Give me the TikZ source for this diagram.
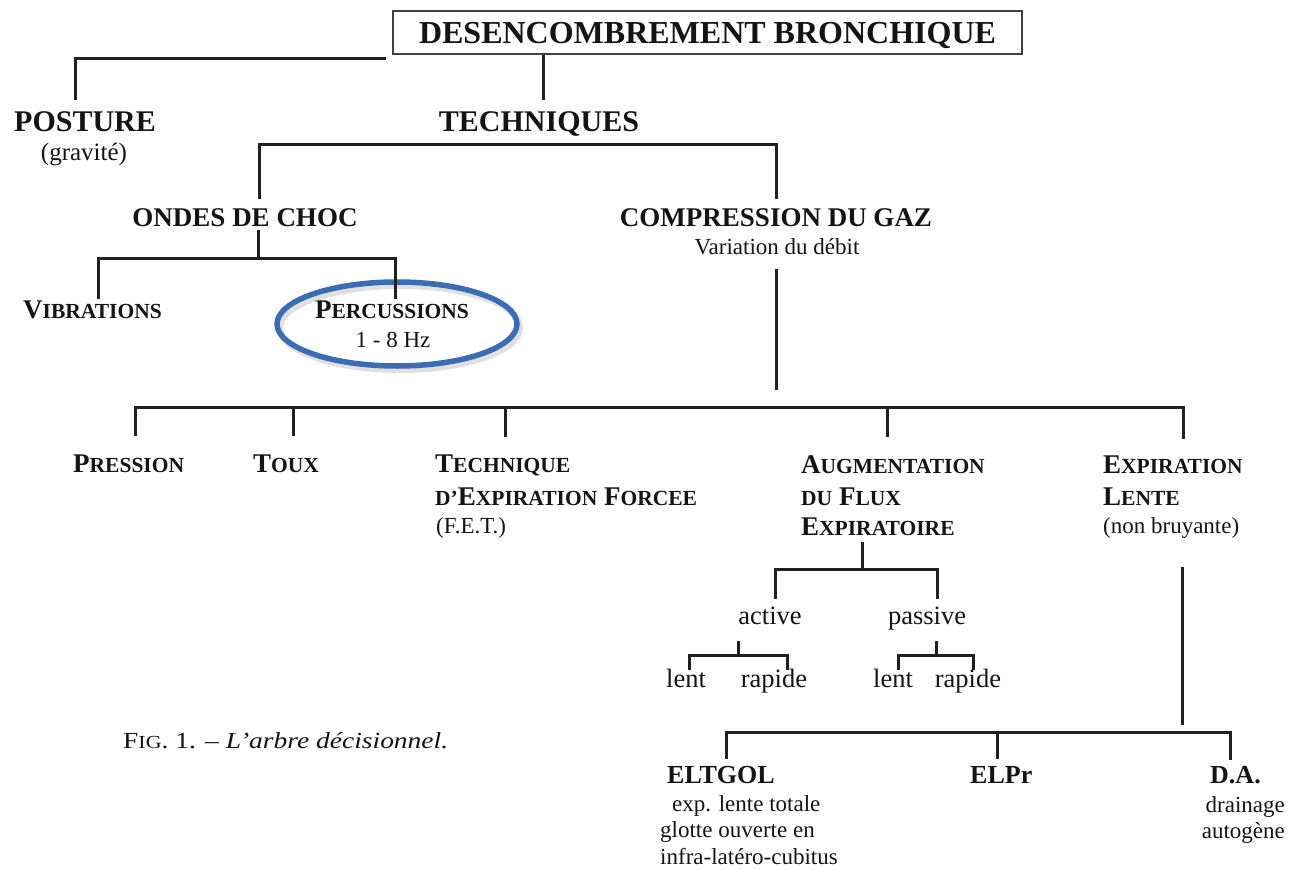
\documentclass[tikz,border=0pt]{standalone}
\usepackage{fontspec}
\setmainfont{Liberation Serif}
\usetikzlibrary{shapes.geometric}
\definecolor{ink}{HTML}{141414}
\definecolor{lineink}{HTML}{202020}
\definecolor{ovalblue}{HTML}{3B6DB4}
\newcommand\Bg[1]{{\fontsize{27}{32}\selectfont #1}}
\newcommand\Sm[1]{{\fontsize{21.5}{26}\selectfont #1}}
\begin{document}
\begin{tikzpicture}[x=1pt,y=-1pt,
  lbl/.style={inner sep=0pt, text=ink},
  wire/.style={line width=3pt, draw=lineink, line cap=rect, line join=miter},
  hd/.style={lbl, font=\bfseries\fontsize{30}{36}\selectfont},
  hdb/.style={lbl, font=\bfseries\fontsize{27}{32}\selectfont},
  scap/.style={lbl, font=\bfseries\fontsize{27}{32}\selectfont},
  sub/.style={lbl, font=\fontsize{23}{27}\selectfont},
  leaf/.style={lbl, font=\fontsize{26.5}{30}\selectfont},
  acro/.style={lbl, font=\bfseries\fontsize{26}{30}\selectfont},
]
\useasboundingbox (0,0) rectangle (1290,869);
\fill[white] (0,0) rectangle (1290,869);

% ---- title
\node[lbl, draw=lineink!85, line width=1.6pt, minimum width=629pt, minimum height=43pt,
      text height=22pt, text depth=0pt, font=\bfseries\fontsize{32}{38}\selectfont]
      (root) at (707.5,32.5) {DESENCOMBREMENT BRONCHIQUE};

% ---- level 1
\node[hd, anchor=base west] (posture) at (14,132) {POSTURE};
\node[sub, font=\fontsize{25}{30}\selectfont, anchor=base] (grav) at (84,161) {(gravité)};
\node[hd, anchor=base] (tech) at (539,132) {TECHNIQUES};

% ---- level 2
\node[hdb, anchor=base] (ondes) at (245,226) {ONDES DE CHOC};
\node[hdb, anchor=base] (comp) at (776,226) {COMPRESSION DU GAZ};
\node[sub, anchor=base] (var) at (777,254) {Variation du débit};

% ---- level 3 (ondes)
\node[scap, anchor=base west] (vib) at (23,318) {\Bg{V}\Sm{IBRATIONS}};
\node[scap, anchor=base] (perc) at (392,318) {\Bg{P}\Sm{ERCUSSIONS}};
\node[sub, anchor=base] (hz) at (393,347) {1 - 8 Hz};
\node[ellipse, draw=black!30, opacity=.4, line width=6pt, minimum width=240pt, minimum height=84pt, inner sep=0pt]
      (ovalshadow) at (400,328) {};
\node[ellipse, draw=ovalblue, line width=5.5pt, minimum width=240pt, minimum height=84pt, inner sep=0pt]
      (oval) at (397,324) {};

% ---- level 3 (compression)
\node[scap, anchor=base west] (press) at (73,472) {\Bg{P}\Sm{RESSION}};
\node[scap, anchor=base west] (toux) at (253,472) {\Bg{T}\Sm{OUX}};
\node[scap, anchor=base west] (fet1) at (435,472) {\Bg{T}\Sm{ECHNIQUE}};
\node[scap, anchor=base west] (fet2) at (435,505) {\Sm{D’}\Bg{E}\Sm{XPIRATION} \Bg{F}\Sm{ORCEE}};
\node[sub, anchor=base west] (fet3) at (436,533) {(F.E.T.)};
\node[scap, anchor=base west] (afe1) at (801,473) {\Bg{A}\Sm{UGMENTATION}};
\node[scap, anchor=base west] (afe2) at (801,505) {\Sm{DU} \Bg{F}\Sm{LUX}};
\node[scap, anchor=base west] (afe3) at (801,535) {\Bg{E}\Sm{XPIRATOIRE}};
\node[scap, anchor=base west] (el1) at (1103,473) {\Bg{E}\Sm{XPIRATION}};
\node[scap, anchor=base west] (el2) at (1103,505) {\Bg{L}\Sm{ENTE}};
\node[sub, anchor=base west] (el3) at (1103,533) {(non bruyante)};

% ---- AFE subtree
\node[leaf, anchor=base] (active) at (770,624) {active};
\node[leaf, anchor=base] (passive) at (927,624) {passive};
\node[leaf, anchor=base] (alent) at (686,687) {lent};
\node[leaf, anchor=base] (arap) at (774,687) {rapide};
\node[leaf, anchor=base] (plent) at (893,687) {lent};
\node[leaf, anchor=base] (prap) at (968,687) {rapide};

% ---- EL subtree
\node[acro, anchor=base west] (eltgol) at (667,783) {ELTGOL};
\node[sub, anchor=base west] (elt1) at (672,811) {exp. lente totale};
\node[sub, anchor=base west] (elt2) at (660,837) {glotte ouverte en};
\node[sub, anchor=base west] (elt3) at (660,864) {infra-latéro-cubitus};
\node[acro, anchor=base west] (elpr) at (970,783) {ELPr};
\node[acro, anchor=base west] (da) at (1210,783) {D.A.};
\node[sub, anchor=base east] (da1) at (1285,812) {drainage};
\node[sub, anchor=base east] (da2) at (1285,838) {autogène};

% ---- caption
\node[lbl, anchor=base west, font=\fontsize{23}{28}\selectfont] (caption) at (123,748)
  {\resizebox{325pt}{\height}{F{\fontsize{18.4}{22}\selectfont IG}. 1. – \textit{L’arbre décisionnel.}}};

% ---- junction coordinates
\coordinate (r0) at (384,59);  \coordinate (r1) at (75,59);   \coordinate (r2) at (75,99);
\coordinate (t0) at (543,57);  \coordinate (t1) at (543,99);
\coordinate (u0) at (259,198); \coordinate (u1) at (259,145); \coordinate (u2) at (776,145); \coordinate (u3) at (776,198);
\coordinate (o0) at (258,231); \coordinate (o1) at (258,258);
\coordinate (p0) at (98,297);  \coordinate (p1) at (98,258);  \coordinate (p2) at (395,258); \coordinate (p3) at (395,297);
\coordinate (c0) at (776,270); \coordinate (c1) at (776,388);
\coordinate (b0) at (135,434); \coordinate (b1) at (135,407); \coordinate (b2) at (1183,407); \coordinate (b3) at (1183,437);
\coordinate (s1a) at (293,407); \coordinate (s1b) at (293,434);
\coordinate (s2a) at (505,407); \coordinate (s2b) at (505,435);
\coordinate (s3a) at (887,407); \coordinate (s3b) at (887,435);
\coordinate (f0) at (862,543); \coordinate (f1) at (862,569);
\coordinate (g0) at (775,597); \coordinate (g1) at (775,569); \coordinate (g2) at (937,569); \coordinate (g3) at (937,597);
\coordinate (h0) at (738,642); \coordinate (h1) at (738,655);
\coordinate (i0) at (689,668); \coordinate (i1) at (689,655); \coordinate (i2) at (787,655); \coordinate (i3) at (787,668);
\coordinate (j0) at (936,642); \coordinate (j1) at (936,655);
\coordinate (k0) at (898,668); \coordinate (k1) at (898,655); \coordinate (k2) at (973,655); \coordinate (k3) at (973,668);
\coordinate (l0) at (1182,568); \coordinate (l1) at (1182,723);
\coordinate (m0) at (726,757); \coordinate (m1) at (726,732); \coordinate (m2) at (1230,732); \coordinate (m3) at (1230,758);
\coordinate (n0) at (997,732); \coordinate (n1) at (997,757);

% ---- connectors
\draw[wire] (r0) -- (r1) -- (r2);
\draw[wire] (t0) -- (t1);
\draw[wire] (u0) -- (u1) -- (u2) -- (u3);
\draw[wire] (o0) -- (o1);
\draw[wire] (p0) -- (p1) -- (p2) -- (p3);
\draw[wire] (c0) -- (c1);
\draw[wire] (b0) -- (b1) -- (b2) -- (b3);
\draw[wire] (s1a) -- (s1b);
\draw[wire] (s2a) -- (s2b);
\draw[wire] (s3a) -- (s3b);
\draw[wire] (f0) -- (f1);
\draw[wire] (g0) -- (g1) -- (g2) -- (g3);
\draw[wire] (h0) -- (h1);
\draw[wire] (i0) -- (i1) -- (i2) -- (i3);
\draw[wire] (j0) -- (j1);
\draw[wire] (k0) -- (k1) -- (k2) -- (k3);
\draw[wire] (l0) -- (l1);
\draw[wire] (m0) -- (m1) -- (m2) -- (m3);
\draw[wire] (n0) -- (n1);
\end{tikzpicture}
\end{document}
